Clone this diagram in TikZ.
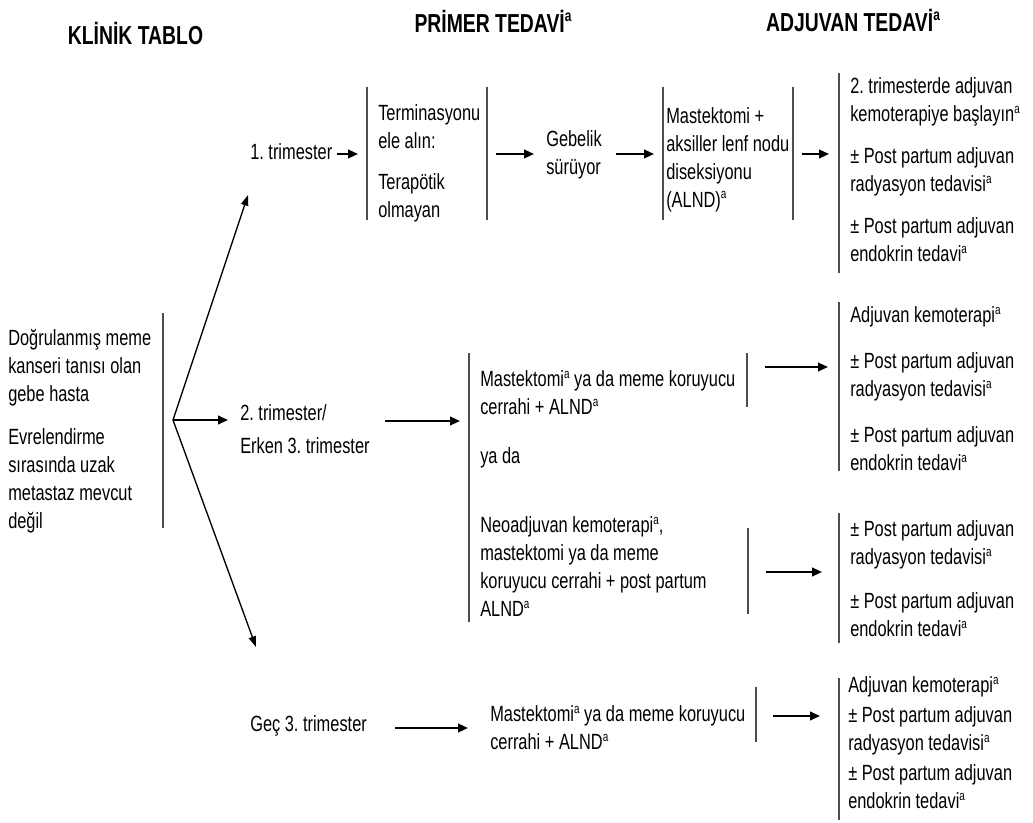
\documentclass[tikz,border=0pt]{standalone}
\usepackage{fontspec}
\setmainfont[FakeStretch=0.745]{Liberation Sans}
\usepackage{tikz}
\usetikzlibrary{arrows.meta,calc}
\newcommand\noteA[1][10]{\raisebox{0.4em}{\fontsize{#1}{#1}\selectfont a}}
\frenchspacing

\begin{document}
\begin{tikzpicture}[x=0.75pt,y=-0.75pt,
  txt/.style={anchor=west,align=left,inner sep=0pt,font=\fontsize{16.5}{21}\selectfont},
  head/.style={inner sep=0pt,font=\fontsize{19.5}{23}\selectfont\bfseries},
  bar/.style={draw=black!70,line width=0.8pt},
  arr/.style={-{Triangle[length=7.5pt,width=6.5pt]},line width=1.5pt},
  fork/.style={-{Triangle[length=8pt,width=5.5pt]},line width=1pt}]
  \useasboundingbox (0,0) rectangle (1033,823);
  % column heads
  \node[head] (hKlinik) at (135.5,33) {KLİNİK TABLO};
  \node[head] (hPrimer) at (493,21) {PRİMER TEDAVİ\noteA[12]};
  \node[head] (hAdj) at (853,20) {ADJUVAN TEDAVİ\noteA[12]};
  % clinical picture
  \node[txt] (tablo) at (8,431) {Doğrulanmış meme\\kanseri tanısı olan\\gebe hasta\\[11pt]Evrelendirme\\sırasında uzak\\metastaz mevcut\\değil};
  \draw[bar] (163,313) -- (163,528);
  \coordinate (split) at (173,420);
  % trimesters
  \node[txt] (t1) at (250,152) {1. trimester};
  \node[txt] (t2) at (240,429) {2. trimester/\\[3.75pt]Erken 3. trimester};
  \node[txt] (t3) at (250,726) {Geç 3. trimester};
  \draw[fork] (split) -- ($(t1.west)+(-2,43)$);
  \draw[arr] (split) -- ($(t2.west)+(-12,-9)$);
  \draw[fork] (split) -- ($(t3.west)+(6,-79)$);
  % 1. trimester
  \node[txt] (term) at (378,163) {Terminasyonu\\ele alın:\\[10pt]Terapötik\\olmayan};
  \node[txt] (gebe) at (546,155) {Gebelik\\sürüyor};
  \node[txt] (mast1) at (666,160) {Mastektomi +\\aksiller lenf nodu\\diseksiyonu\\(ALND)\noteA};
  \node[txt] (adj1) at (850,170) {2. trimesterde adjuvan\\kemoterapiye başlayın\noteA\\[10.5pt]± Post partum adjuvan\\radyasyon tedavisi\noteA\\[10.5pt]± Post partum adjuvan\\endokrin tedavi\noteA};
  \draw[bar] (367,87) -- (367,220);
  \draw[bar] (487,87) -- (487,220);
  \draw[bar] (663,87) -- (663,220);
  \draw[bar] (793,87) -- (793,220);
  \draw[bar] (839,73) -- (839,273);
  \draw[arr] ($(t1.west)+(87,2)$) -- ($(term.west)+(-20,-9)$);
  \draw[arr] ($(term.west)+(118,-9)$) -- ($(gebe.west)+(-12,-1)$);
  \draw[arr] ($(gebe.west)+(70,-1)$) -- ($(mast1.west)+(-12,-6)$);
  \draw[arr] ($(mast1.west)+(136,-6)$) -- ($(adj1.west)+(-21,-16)$);
  % 2. trimester / erken 3. trimester
  \node[txt] (opt1) at (480,393) {Mastektomi\noteA{} ya da meme koruyucu\\cerrahi + ALND\noteA};
  \node[txt] (yada) at (480,458) {ya da};
  \node[txt] (opt2) at (480,567) {Neoadjuvan kemoterapi\noteA,\\mastektomi ya da meme\\koruyucu cerrahi + post partum\\ALND\noteA};
  \node[txt] (adj2) at (850,389) {Adjuvan kemoterapi\noteA\\[13.5pt]± Post partum adjuvan\\radyasyon tedavisi\noteA\\[13.5pt]± Post partum adjuvan\\endokrin tedavi\noteA};
  \node[txt] (adj3) at (850,579) {± Post partum adjuvan\\radyasyon tedavisi\noteA\\[12pt]± Post partum adjuvan\\endokrin tedavi\noteA};
  \draw[bar] (469,353) -- (469,622);
  \draw[bar] (747,353) -- (747,407);
  \draw[bar] (748,528) -- (748,614);
  \draw[bar] (839,302) -- (839,471);
  \draw[bar] (839,513) -- (839,643);
  \draw[arr] ($(t2.west)+(145,-8)$) -- ($(opt1.west)+(-20,28)$);
  \draw[arr] ($(opt1.west)+(285,-26)$) -- ($(adj2.west)+(-22,-22)$);
  \draw[arr] ($(opt2.west)+(286,5)$) -- ($(adj3.west)+(-28,-7)$);
  % gec 3. trimester
  \node[txt] (opt3) at (490,728) {Mastektomi\noteA{} ya da meme koruyucu\\cerrahi + ALND\noteA};
  \node[txt] (adj4) at (848,743) {Adjuvan kemoterapi\noteA\\[1.5pt]± Post partum adjuvan\\radyasyon tedavisi\noteA\\[1.5pt]± Post partum adjuvan\\endokrin tedavi\noteA};
  \draw[bar] (756,687) -- (756,742);
  \draw[bar] (839,678) -- (839,820);
  \draw[arr] ($(t3.west)+(145,2)$) -- ($(opt3.west)+(-22,0)$);
  \draw[arr] ($(opt3.west)+(283,-12)$) -- ($(adj4.west)+(-28,-27)$);
\end{tikzpicture}
\end{document}
